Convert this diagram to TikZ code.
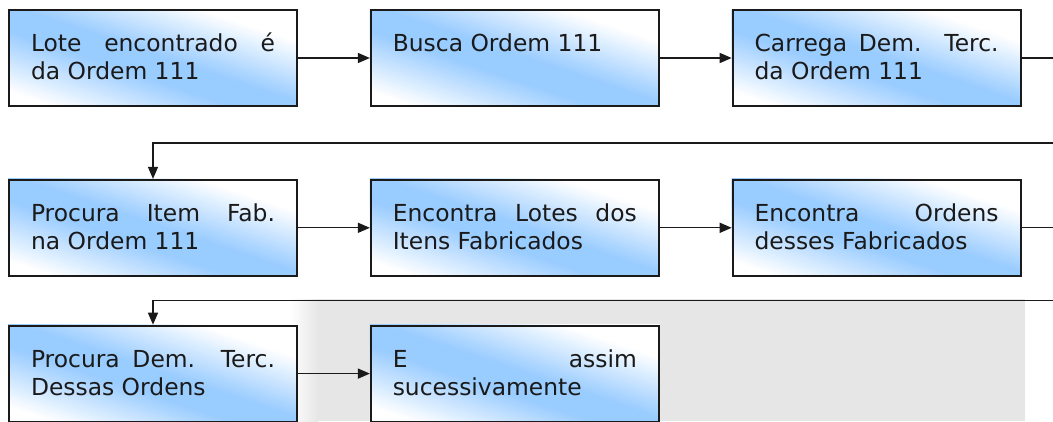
\documentclass[tikz,border=0pt]{standalone}
\usepackage{fontspec}
\setmainfont{DejaVu Sans}
\usepackage{tikz}
\usetikzlibrary{arrows.meta,positioning,calc,backgrounds}
\definecolor{ink}{HTML}{1A1A1A}
\definecolor{boxblue}{HTML}{99CCFF}
\definecolor{wmgray}{HTML}{E6E6E6}
\tikzset{
  box/.style={draw=ink,line width=1.8pt,
    text width=244pt,inner xsep=22pt,minimum height=96pt,align=justify,
    text height=20pt,text depth=32pt,text=ink,font={\fontsize{23.4}{28}\selectfont}},
  flow/.style={-{Triangle[length=12pt,width=10pt]},line width=1.4pt,color=ink},
  node distance=72pt
}
% diagonal white-blue-white gradient behind a box
\newcommand\boxgrad[1]{%
  \begin{scope}
    \clip (#1.south west) rectangle (#1.north east);
    \foreach \s in {-1.05,-1.025,...,1.05}{
      \pgfmathsetmacro\pct{max(0,min(100,(0.75-abs(\s+0.1))*160))}
      \fill[boxblue!\pct!white] ($(#1.center)+({(\s-2)*146},{(\s+2)*49})$)
        -- ($(#1.center)+({(\s+2)*146},{(\s-2)*49})$)
        -- ($(#1.center)+({(\s+2.04)*146},{(\s-1.96)*49})$)
        -- ($(#1.center)+({(\s-1.96)*146},{(\s+2.04)*49})$) -- cycle;
    }
  \end{scope}}
\begin{document}
\begin{tikzpicture}[x=1pt,y=1pt]
  \path[use as bounding box,clip] (0,0) rectangle (1053,421);
  % row 1
  \node[box] (lote) at (153,363) {Lote encontrado é\linebreak da Ordem 111};
  \node[box,right=of lote] (busca) {Busca Ordem 111};
  \node[box,right=of busca] (carrega) {Carrega Dem. Terc.\linebreak da Ordem 111};
  % row 2
  \node[box,below=of lote] (item) {Procura Item Fab.\linebreak na Ordem 111};
  \node[box,right=of item] (lotes) {Encontra Lotes dos\linebreak Itens Fabricados};
  \node[box,right=of lotes] (ordens) {Encontra Ordens\linebreak desses Fabricados};
  % row 3
  \node[box,below=48pt of item] (dem) {Procura Dem. Terc.\linebreak Dessas Ordens};
  \node[box,right=of dem] (assim) {E assim\linebreak sucessivamente};
  \begin{scope}[on background layer]
    % watermark behind the last row
    \fill[wmgray] (318,0) rectangle (1025,122);
    \shade[left color=white,right color=wmgray] (290,0) rectangle (318,122);
    \foreach \b in {lote,busca,carrega,item,lotes,ordens,dem,assim}{\boxgrad{\b}}
  \end{scope}
  \coordinate (gapa) at ($(lote.south)!.5!(item.north)$);
  \coordinate (gapb) at ($(item.south)!.5!(dem.north)$);
  \draw[flow] (lote) -- (busca);
  \draw[flow] (busca) -- (carrega);
  \draw[flow] (item) -- (lotes);
  \draw[flow] (lotes) -- (ordens);
  \draw[flow] (dem) -- (assim);
  \draw[flow] (carrega.east) -- ++(60,0) |- (gapa) -- (item.north);
  \draw[flow] (ordens.east) -- ++(60,0) |- (gapb) -- (dem.north);
\end{tikzpicture}
\end{document}
